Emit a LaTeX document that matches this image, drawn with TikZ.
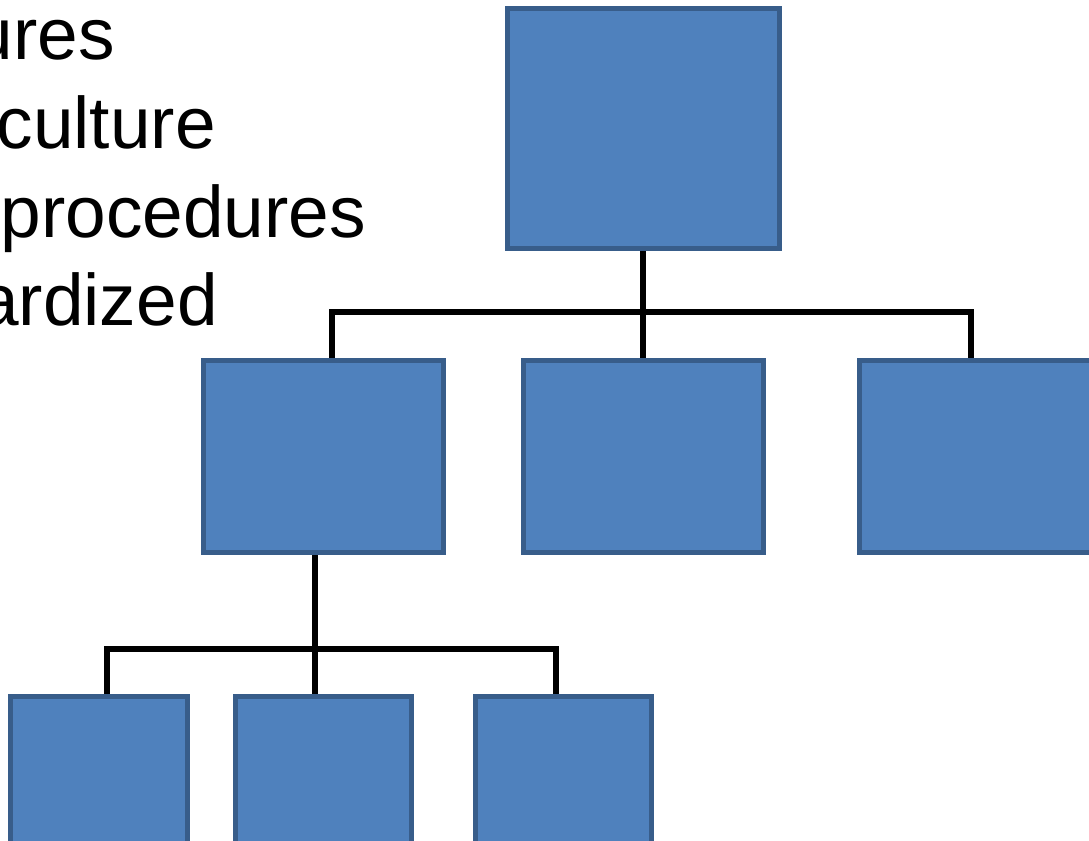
\documentclass[tikz,border=0pt]{standalone}
\usepackage{fontspec}
\setmainfont{Liberation Sans}
\definecolor{boxfill}{HTML}{4F81BD}
\definecolor{boxline}{HTML}{385D8A}
\tikzset{
  orgbox/.style={rectangle, draw=boxline, fill=boxfill, line width=3.75pt, inner sep=0pt},
  topbox/.style={orgbox, minimum width=204pt, minimum height=180pt},
  midbox/.style={orgbox, minimum width=180pt, minimum height=144pt},
  lowbox/.style={orgbox, minimum width=132.5pt, minimum height=135pt},
  conn/.style={draw=black, line width=4pt, line join=miter},
  bullettext/.style={anchor=base east, inner sep=0pt, font=\fontsize{54.75pt}{65.7pt}\selectfont}
}
\begin{document}
\begin{tikzpicture}[x=0.75pt, y=-0.75pt]
\useasboundingbox (0,0) rectangle (1089,840);
\clip (0,0) rectangle (1089,840);
\fill[white] (0,0) rectangle (1089,840);

% text lines
\node[bullettext] (t1) at (115,59) {ures};
\node[bullettext] (t2) at (216,148) {culture};
\node[bullettext] (t3) at (366,237) {procedures};
\node[bullettext] (t4) at (218,325) {ardized};

% boxes
\node[topbox] (top) at (643.5,128.5) {};
\node[midbox] (m1) at (323.5,456.5) {};
\node[midbox] (m2) at (643.5,456.5) {};
\node[midbox] (m3) at (979.5,456.5) {};
\node[lowbox] (b1) at (99,786.5) {};
\node[lowbox] (b2) at (323.5,786.5) {};
\node[lowbox] (b3) at (563.5,786.5) {};

% junction coordinates
\coordinate (busA) at (643,312);
\coordinate (jA1) at (332,312);
\coordinate (jA3) at (971,312);
\coordinate (busB) at (315,649);
\coordinate (jB1) at (107,649);
\coordinate (jB3) at (556,649);

% connectors from top box
\draw[conn] (top.south -| busA) -- (m2.north -| busA);
\draw[conn] (jA1 |- m1.north) -- (jA1) -- (jA3) -- (jA3 |- m3.north);

% connectors from first middle box
\draw[conn] (m1.south -| busB) -- (b2.north -| busB);
\draw[conn] (jB1 |- b1.north) -- (jB1) -- (jB3) -- (jB3 |- b3.north);
\end{tikzpicture}
\end{document}
